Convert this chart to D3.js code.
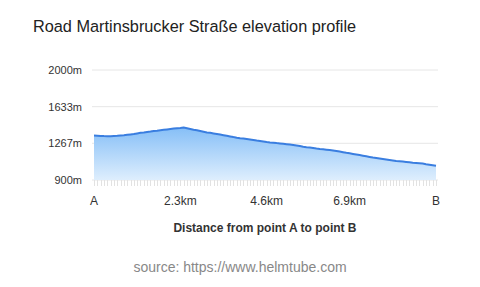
<!DOCTYPE html>
<html>
<head>
<meta charset="utf-8">
<script src="https://cdn.jsdelivr.net/npm/d3@7"></script>
<style>
  body { margin: 0; background: #fff; }
  svg { font-family: Helvetica, Arial, "Liberation Sans", sans-serif; }
</style>
</head>
<body>
<svg width="480" height="287"></svg>
<script>
// elevation (m) sampled along the road, A -> B
var elevation = [
  1345, 1343, 1341, 1339, 1338, 1338, 1340, 1342, 1345, 1348,
  1352, 1356, 1360, 1366, 1372, 1375, 1380, 1384, 1389, 1393,
  1398, 1402, 1406, 1410, 1414, 1417, 1420, 1424, 1418, 1410,
  1402, 1397, 1390, 1383, 1376, 1372, 1366, 1360, 1354, 1348,
  1342, 1336, 1329, 1323, 1318, 1314, 1310, 1306, 1301, 1295,
  1290, 1285, 1280, 1276, 1273, 1269, 1266, 1262, 1258, 1254,
  1250, 1245, 1239, 1233, 1228, 1224, 1219, 1214, 1210, 1207,
  1203, 1199, 1195, 1190, 1184, 1178, 1172, 1167, 1161, 1155,
  1149, 1143, 1137, 1131, 1125, 1120, 1115, 1110, 1105, 1100,
  1095, 1090, 1087, 1084, 1081, 1078, 1073, 1071, 1068, 1064,
  1058, 1053, 1048, 1043
];
var xTickIndex = [0, 26, 52, 77, 103];
var xTickLabels = ["A", "2.3km", "4.6km", "6.9km", "B"];
var yTicks = [900, 1267, 1633, 2000];

var svg = d3.select("svg");
var margin = {left: 94, right: 44, top: 70, bottom: 107};
var width = 480, height = 287;

var x = d3.scaleLinear()
    .domain([0, elevation.length - 1])
    .range([margin.left, width - margin.right]);
var y = d3.scaleLinear()
    .domain([900, 2000])
    .range([height - margin.bottom, margin.top]);

// title
svg.append("text")
    .attr("x", 33).attr("y", 32)
    .attr("font-size", 16.3).attr("fill", "#222")
    .text("Road Martinsbrucker Straße elevation profile");

// grid
svg.append("g").selectAll("line")
  .data(yTicks)
  .enter().append("line")
    .attr("x1", margin.left - 2).attr("x2", width - margin.right + 2)
    .attr("y1", function(d) { return y(d); })
    .attr("y2", function(d) { return y(d); })
    .attr("stroke", "#e6e6e6");

svg.append("g").selectAll("text")
  .data(yTicks)
  .enter().append("text")
    .attr("x", 82)
    .attr("y", function(d) { return y(d) + 4; })
    .attr("text-anchor", "end")
    .attr("font-size", 11).attr("fill", "#333")
    .text(function(d) { return d + "m"; });

// gradient fill
var grad = svg.append("defs").append("linearGradient")
    .attr("id", "fill").attr("x1", 0).attr("y1", 0).attr("x2", 0).attr("y2", 1);
grad.append("stop").attr("offset", "0%").attr("stop-color", "#86bff7");
grad.append("stop").attr("offset", "100%").attr("stop-color", "#deeefd");

var area = d3.area()
    .x(function(d, i) { return x(i); })
    .y0(y(900))
    .y1(function(d) { return y(d); });
var line = d3.line()
    .x(function(d, i) { return x(i); })
    .y(function(d) { return y(d); });

// x ticks, one per sample
svg.append("g").selectAll("line")
  .data(elevation)
  .enter().append("line")
    .attr("x1", function(d, i) { return Math.round(x(i)) + 0.5; })
    .attr("x2", function(d, i) { return Math.round(x(i)) + 0.5; })
    .attr("y1", y(900)).attr("y2", y(900) + 6)
    .attr("stroke", "#e2e2e2");

svg.append("path")
    .datum(elevation)
    .attr("d", area)
    .attr("fill", "url(#fill)");

svg.append("path")
    .datum(elevation)
    .attr("d", line)
    .attr("fill", "none")
    .attr("stroke", "#3a7ee0")
    .attr("stroke-width", 2)
    .attr("stroke-linejoin", "round");

svg.append("g").selectAll("text")
  .data(xTickIndex)
  .enter().append("text")
    .attr("x", function(d) { return x(d); })
    .attr("y", 205)
    .attr("text-anchor", "middle")
    .attr("font-size", 12).attr("fill", "#333")
    .text(function(d, i) { return xTickLabels[i]; });

svg.append("text")
    .attr("x", 265).attr("y", 232)
    .attr("text-anchor", "middle")
    .attr("font-size", 12).attr("font-weight", "bold").attr("fill", "#333")
    .text("Distance from point A to point B");

svg.append("text")
    .attr("x", 240).attr("y", 272)
    .attr("text-anchor", "middle")
    .attr("font-size", 14).attr("fill", "#888")
    .text("source: https://www.helmtube.com");
</script>
</body>
</html>
